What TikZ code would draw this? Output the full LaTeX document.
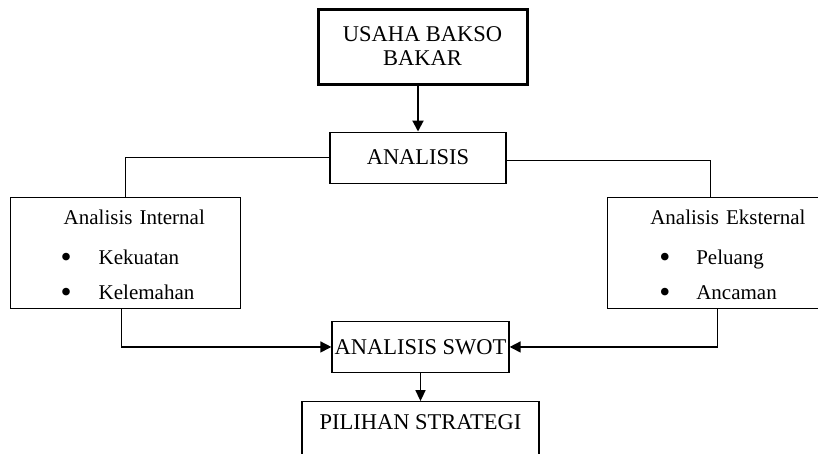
\documentclass[tikz,border=0pt]{standalone}
\usepackage{fontspec}
\setmainfont{Liberation Serif}
\usetikzlibrary{arrows.meta,positioning}

\newcommand{\blt}{\raisebox{-2.5pt}{\scalebox{1.5}{\textbullet}}}

\begin{document}
\begin{tikzpicture}[
 x=1pt, y=1pt,
 font=\fontsize{21}{25}\selectfont,
 mainbox/.style={rectangle, draw, line width=1.3pt, align=center, inner sep=0pt, font=\fontsize{22.5}{24}\selectfont},
 sidebox/.style={rectangle, draw, line width=1.3pt, text width=#1, align=left, inner sep=0pt, minimum height=111pt},
 arrow/.style={-{Triangle[length=11pt,width=11pt]}, line width=1.5pt},
 link/.style={line width=1.2pt}
]
\useasboundingbox (0,0) rectangle (818,-453);

% Top
\node[mainbox, line width=3pt, minimum width=209pt, minimum height=75pt] (usaha) at (422.5,-46.5) {USAHA BAKSO\\BAKAR};
\node[mainbox, minimum width=176pt, minimum height=51pt, below=46pt of usaha, xshift=-4.5pt] (analisis) {ANALISIS};

% Internal / external
\node[sidebox=230pt, below left=13pt and 88pt of analisis] (internal) {%
 \rule{0pt}{21pt}\hspace*{53pt}Analisis Internal\\[15pt]
 \hspace*{50pt}\makebox[38pt][l]{\blt}Kekuatan\\[10pt]
 \hspace*{50pt}\makebox[38pt][l]{\blt}Kelemahan};
\node[sidebox=211pt, below right=13pt and 100pt of analisis] (external) {%
 \rule{0pt}{21pt}\hspace*{43pt}Analisis Eksternal\\[15pt]
 \hspace*{52pt}\makebox[37pt][l]{\blt}Peluang\\[10pt]
 \hspace*{52pt}\makebox[37pt][l]{\blt}Ancaman};

% Bottom
\node[mainbox, minimum width=177pt, minimum height=51pt, below=137pt of analisis, xshift=2.5pt] (swot) {ANALISIS SWOT};
\node[mainbox, minimum width=237pt, inner ysep=12pt, text height=16pt, text depth=40pt, below=28pt of swot] (pilihan) {PILIHAN STRATEGI};

% Connectors
\draw[arrow, line width=2pt] (usaha.south -| analisis.north) -- (analisis.north);
\draw[link] (analisis.west) -| (internal.north);
\draw[link] ([yshift=-3pt]analisis.east) -| ([xshift=-2.5pt]external.north);
\draw[arrow] ([xshift=-4pt]internal.south) |- (swot.west);
\draw[arrow] ([xshift=4.5pt]external.south) |- (swot.east);
\draw[arrow, -{Triangle[length=11pt,width=10pt]}] (swot.south) -- (pilihan.north);

\end{tikzpicture}
\end{document}
